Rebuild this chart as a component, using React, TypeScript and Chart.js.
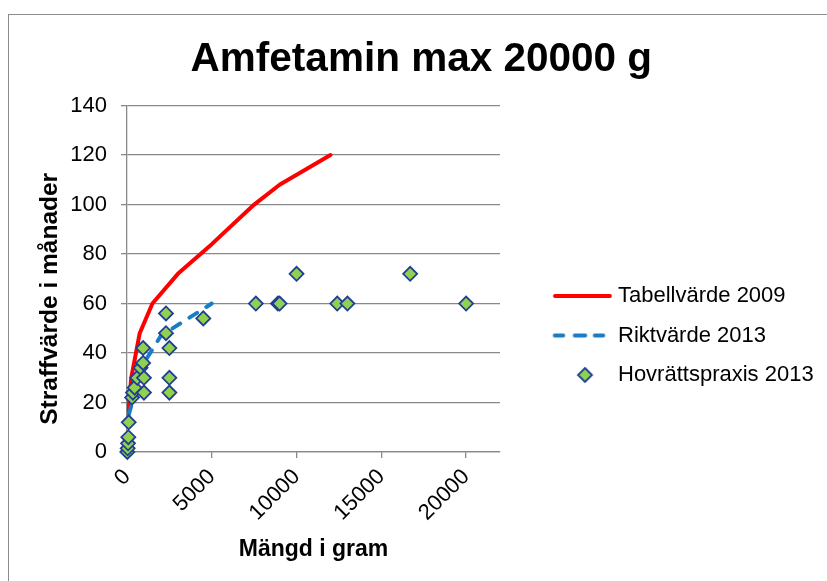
import React, { useEffect, useRef } from 'react';
import { Chart, registerables } from 'chart.js';

Chart.register(...registerables);

const CHART_TITLE = 'Amfetamin max 20000 g';
const X_TITLE = 'Mängd i gram';
const Y_TITLE = 'Straffvärde i månader';
const SERIES_NAMES = ['Tabellvärde 2009', 'Riktvärde 2013', 'Hovrättspraxis 2013'];

const tabellX = [50, 250, 750, 1500, 3000, 5000, 7500, 9000, 12000];
const tabellY = [14, 30, 48, 60, 72, 84, 100, 108, 120];

const riktX = [100, 350, 1000, 2000, 5000];
const riktY = [15, 21, 36, 47, 60];

const praxisX = [20, 40, 60, 80, 100, 300, 350, 450, 600, 800, 950, 950, 1000, 1000, 2300, 2300, 2500, 2500, 2500, 4500, 7600, 8900, 9000, 10000, 12400, 13000, 16700, 20000];
const praxisY = [0, 1.5, 3.5, 6, 12, 22, 24, 26, 30, 34, 36, 42, 30, 24, 56, 48, 42, 30, 24, 54, 60, 60, 60, 72, 60, 60, 72, 60];

const xTicks = [0, 5000, 10000, 15000, 20000];
const yTicks = [0, 20, 40, 60, 80, 100, 120, 140];

const FONT = "'Liberation Sans', Arial, sans-serif";
const GRID = '#898989';
const RED = '#FF0000';
const BLUE = '#1A7DC4';
const GREEN = '#92D050';
const NAVY = '#1F3F94';

function makeIcon(kind: number): HTMLCanvasElement {
  const c = document.createElement('canvas');
  c.width = 100;
  c.height = 20;
  const g = c.getContext('2d')!;
  g.lineCap = 'round';
  if (kind === 0) {
    g.strokeStyle = RED;
    g.lineWidth = 4;
    g.beginPath();
    g.moveTo(42.75, 10);
    g.lineTo(97.75, 10);
    g.stroke();
  } else if (kind === 1) {
    g.strokeStyle = BLUE;
    g.lineWidth = 4;
    [[42.5, 51], [62.5, 73], [82.5, 91]].forEach(([a, b]) => {
      g.beginPath();
      g.moveTo(a, 10);
      g.lineTo(b, 10);
      g.stroke();
    });
  } else {
    const cx = 72.75, cy = 10, r = 7;
    g.beginPath();
    g.moveTo(cx, cy - r);
    g.lineTo(cx + r, cy);
    g.lineTo(cx, cy + r);
    g.lineTo(cx - r, cy);
    g.closePath();
    g.fillStyle = GREEN;
    g.fill();
    g.strokeStyle = NAVY;
    g.lineWidth = 1.8;
    g.stroke();
  }
  return c;
}

const yTitlePlugin = {
  id: 'yTitleText',
  afterDraw(chart: any) {
    const ctx = chart.ctx;
    ctx.save();
    ctx.font = `bold 24.5px ${FONT}`;
    ctx.fillStyle = '#000';
    ctx.textAlign = 'center';
    ctx.textBaseline = 'middle';
    ctx.translate(41, (chart.chartArea.top + chart.chartArea.bottom) / 2 + 20);
    ctx.rotate(-Math.PI / 2);
    ctx.fillText(Y_TITLE, 0, 0);
    ctx.restore();
  },
};

export default function App() {
  const ref = useRef<HTMLCanvasElement>(null);

  useEffect(() => {
    document.body.style.overflow = 'hidden';
    const canvas = ref.current!;
    const icons = [makeIcon(0), makeIcon(1), makeIcon(2)];

    const m = document.createElement('canvas').getContext('2d')!;
    m.font = `22px ${FONT}`;
    const textW = Math.max(...SERIES_NAMES.map((s) => m.measureText(s).width));
    const rightPad = 199 - textW;

    Chart.defaults.font.family = FONT;

    const chart = new Chart(canvas, {
      type: 'scatter',
      data: {
        datasets: [
          {
            type: 'line',
            label: SERIES_NAMES[0],
            data: tabellX.map((x, i) => ({ x, y: tabellY[i] })),
            borderColor: RED,
            backgroundColor: RED,
            borderWidth: 4,
            pointRadius: 0,
            tension: 0,
            fill: false,
            borderCapStyle: 'round',
            borderJoinStyle: 'round',
            order: 3,
          } as any,
          {
            type: 'line',
            label: SERIES_NAMES[1],
            data: riktX.map((x, i) => ({ x, y: riktY[i] })),
            borderColor: BLUE,
            backgroundColor: BLUE,
            borderWidth: 4,
            borderDash: [9, 11],
            borderCapStyle: 'round',
            pointRadius: 0,
            tension: 0,
            fill: false,
            order: 2,
          } as any,
          {
            type: 'scatter',
            label: SERIES_NAMES[2],
            data: praxisX.map((x, i) => ({ x, y: praxisY[i] })),
            pointStyle: 'rectRot',
            pointRadius: 7,
            pointBackgroundColor: GREEN,
            pointBorderColor: NAVY,
            pointBorderWidth: 1.8,
            backgroundColor: GREEN,
            borderColor: NAVY,
            showLine: false,
            clip: false,
            order: 1,
          } as any,
        ],
      },
      options: {
        responsive: false,
        animation: false,
        events: [],
        layout: { padding: { left: 10, top: 10, right: rightPad, bottom: 8 } },
        scales: {
          x: {
            type: 'linear',
            min: 0,
            max: 22000,
            afterBuildTicks: (axis: any) => {
              axis.ticks = xTicks.map((v) => ({ value: v }));
            },
            afterFit: (axis: any) => {
              axis.height = 121;
            },
            ticks: {
              font: { size: 22 },
              color: '#000',
              padding: 6,
              minRotation: 45,
              maxRotation: 45,
              autoSkip: false,
              callback: (v: any) => String(v),
            },
            grid: { drawOnChartArea: false, drawTicks: true, tickLength: 6, color: GRID, lineWidth: 1.3 },
            border: { color: GRID, width: 1.3 },
            title: {
              display: true,
              text: X_TITLE,
              font: { size: 23, weight: 'bold' },
              color: '#000',
              padding: { top: 8, bottom: 9.5 },
            },
          },
          y: {
            type: 'linear',
            min: 0,
            max: 140,
            afterBuildTicks: (axis: any) => {
              axis.ticks = yTicks.map((v) => ({ value: v }));
            },
            afterFit: (axis: any) => {
              axis.width = 108;
            },
            ticks: {
              font: { size: 22 },
              color: '#000',
              padding: 14,
              callback: (v: any) => String(v),
            },
            grid: { color: GRID, lineWidth: 1.3, drawTicks: true, tickLength: 6 },
            border: { color: GRID, width: 1.3 },
            title: { display: false },
          },
        },
        plugins: {
          tooltip: { enabled: false },
          title: {
            display: true,
            text: CHART_TITLE,
            font: { size: 40.5, weight: 'bold' },
            color: '#000',
            padding: { top: 10.5, bottom: 21.5 },
          },
          legend: {
            display: true,
            position: 'right',
            align: 'start',
            maxWidth: 400,
            title: { display: true, text: ' ', font: { size: 1 }, padding: { top: 241.3, bottom: 0 } },
            labels: {
              font: { size: 22 },
              color: '#000',
              usePointStyle: true,
              pointStyleWidth: 89.5,
              padding: 17.5,
              sort: (a: any, b: any) => a.datasetIndex - b.datasetIndex,
              generateLabels: (ch: any) => {
                const items = (Chart.defaults.plugins.legend.labels as any).generateLabels(ch);
                return items.map((it: any) => ({ ...it, pointStyle: icons[it.datasetIndex], fontColor: '#000' }));
              },
            },
          },
        },
      } as any,
      plugins: [yTitlePlugin],
    });

    return () => chart.destroy();
  }, []);

  return (
    <div
      style={{
        position: 'absolute',
        left: 8,
        top: 14,
        width: 818,
        height: 566,
        borderLeft: '1px solid #8c8c8c',
        borderTop: '1px solid #8c8c8c',
        background: '#fff',
      }}
    >
      <canvas ref={ref} width={818} height={566} style={{ display: 'block', width: 818, height: 566 }} />
    </div>
  );
}
